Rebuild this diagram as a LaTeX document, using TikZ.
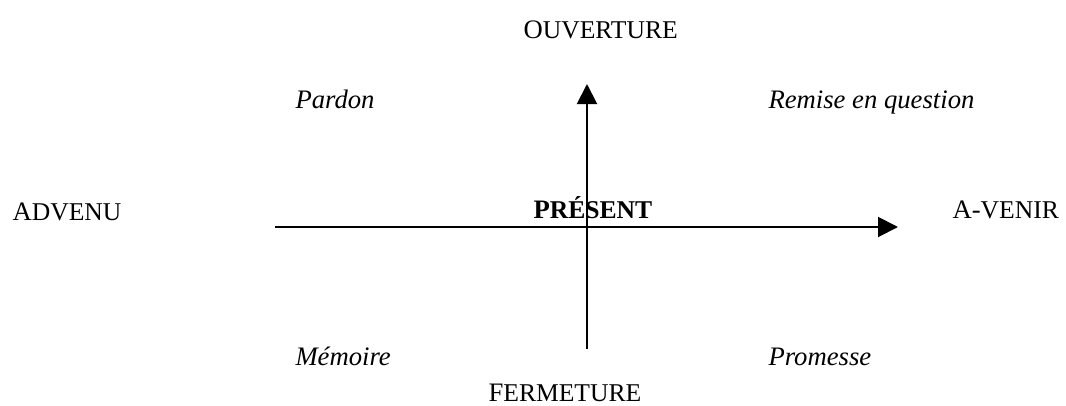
\documentclass[tikz,border=0pt]{standalone}
\usepackage{fontspec}
\setmainfont{Liberation Serif}
\usetikzlibrary{arrows.meta}
\newcommand{\petitcap}[2]{#1{\fontsize{9.6}{11}\selectfont #2}}

\begin{document}
\begin{tikzpicture}[x=0.375pt,y=-0.375pt,
    axe/.style={line width=0.75pt,-{Triangle[width=7.5pt,length=7.5pt]}},
    pole/.style={inner sep=0pt,anchor=base west},
    moment/.style={inner sep=0pt,anchor=base west,font=\itshape}]
    \useasboundingbox (0,0) rectangle (1066,405);
    % les axes
    \coordinate (passe) at (275,227);
    \coordinate (futur) at (898,227);
    \coordinate (bas) at (587,349);
    \coordinate (haut) at (587,84);
    \draw[axe] (passe) -- (futur);
    \draw[axe] (bas) -- (haut);
    % les poles
    \node[pole] (ouverture) at (523,38) {\petitcap{O}{UVERTURE}};
    \node[pole] (fermeture) at (488,401) {\petitcap{F}{ERMETURE}};
    \node[pole] (advenu) at (12,220) {\petitcap{A}{DVENU}};
    \node[pole] (avenir) at (952,218) {\petitcap{A-}{VENIR}};
    \node[pole,font=\bfseries] (present) at (533,218) {\petitcap{P}{RÉSENT}};
    % les quadrants
    \node[moment] (pardon) at (295,108) {Pardon};
    \node[moment] (remise) at (768,108) {Remise en question};
    \node[moment] (memoire) at (295,365) {Mémoire};
    \node[moment] (promesse) at (768,365) {Promesse};
\end{tikzpicture}
\end{document}
